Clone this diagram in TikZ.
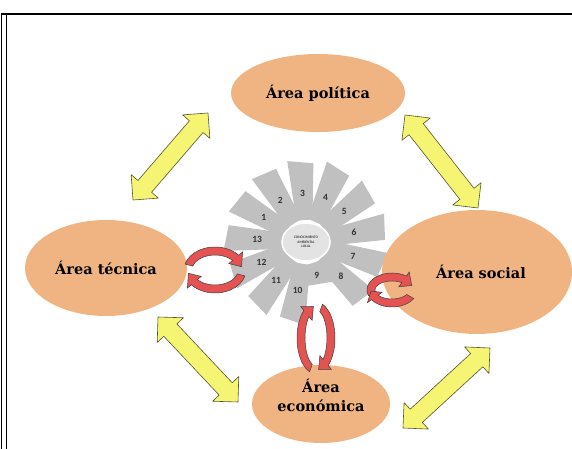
\documentclass[tikz,border=0pt]{standalone}
\usepackage{fontspec}
\usepackage{tikz}
\usetikzlibrary{shapes.geometric,calc}

\newfontfamily\areafont{DejaVu Serif}
\newfontfamily\numfont{Carlito}

\definecolor{areaorange}{RGB}{240,180,130}
\definecolor{arrowyellow}{RGB}{246,245,115}
\definecolor{arrowedge}{RGB}{85,85,45}
\definecolor{cyclered}{RGB}{228,82,82}
\definecolor{petalgray}{RGB}{192,192,192}

\tikzset{
  areatext/.style={align=center, font=\areafont\fontsize{14.5}{19}\selectfont\bfseries},
  area/.style={ellipse, fill=areaorange, inner sep=0pt, areatext},
  fatarrow/.style={fill=arrowyellow, draw=arrowedge, line width=0.6pt, line join=round},
  cyclearrow/.style={fill=cyclered, draw=black!75, line width=0.5pt},
  petal/.style={fill=petalgray},
  petalnum/.style={font=\numfont\fontsize{9.5}{10}\selectfont\bfseries, text=black!80},
}

% fat yellow arrow between two named points
\newcommand{\fatlink}[2]{%
  \filldraw[fatarrow] (#1) -- ($(#1)!25.46pt!45:(#2)$) -- ($(#1)!20.12pt!26.57:(#2)$)
    -- ($(#2)!20.12pt!-26.57:(#1)$) -- ($(#2)!25.46pt!-45:(#1)$) -- (#2)
    -- ($(#2)!25.46pt!45:(#1)$) -- ($(#2)!20.12pt!26.57:(#1)$)
    -- ($(#1)!20.12pt!-26.57:(#2)$) -- ($(#1)!25.46pt!-45:(#2)$) -- cycle;}

% curved red arrow: center, x radius, y radius, from, to, tip angle
\newcommand{\turnarrow}[6]{%
  \begin{scope}[shift={(#1)}]
    \pgfmathsetmacro\ro{#2+4}\pgfmathsetmacro\so{#3+4}
    \pgfmathsetmacro\ri{#2-4}\pgfmathsetmacro\si{#3-4}
    \pgfmathsetmacro\rh{#2+9}\pgfmathsetmacro\sh{#3+9}
    \pgfmathsetmacro\rl{#2-9}\pgfmathsetmacro\sl{#3-9}
    \filldraw[cyclearrow] (#4:\ro\space and \so) arc[start angle=#4, end angle=#5, x radius=\ro, y radius=\so]
      -- (#5:\rh\space and \sh) -- (#6:#2 and #3) -- (#5:\rl\space and \sl)
      -- (#5:\ri\space and \si) arc[start angle=#5, end angle=#4, x radius=\ri, y radius=\si] -- cycle;
  \end{scope}}

\begin{document}
\begin{tikzpicture}[x=1pt,y=1pt]
  \useasboundingbox (0,0) rectangle (572,449);

  % frame
  \draw[line width=1pt] (1.5,0) -- (1.5,436);
  \draw[line width=1pt] (6,0) -- (6,434);
  \draw[line width=2pt] (1,435) -- (572,435);

  % the wheel
  \begin{scope}[shift={(306,207)}]
    \foreach \n in {1,...,13} {
      \pgfmathsetmacro\ang{11-27.69*(\n-6)}
      \pgfmathsetmacro\rout{\n==9 ? 44 : 80}
      \begin{scope}[rotate=\ang]
        \fill[petal] (22,-8) -- (\rout-2,-13) -- (\rout+2,13) -- (22,8) -- cycle;
      \end{scope}
      \node[petalnum] (p\n) at (\ang:{\n==9 ? 35 : 49}) {\n};
    }
  \end{scope}
  \node[ellipse, fill=gray!22, draw=white, line width=1.5pt, minimum width=48, minimum height=38,
    inner sep=0pt, align=center, font=\numfont\fontsize{3.6}{4.4}\selectfont] (cal) at (306,207)
    {CONOCIMIENTO\\AMBIENTAL\\LOCAL};

  % the four areas
  \node[area, minimum width=174, minimum height=78] (pol) at (318,356) {Área política};
  \node[area, minimum width=162, minimum height=96] (tec) at (106,181) {Área técnica};
  \node[area, minimum width=190, minimum height=124] (soc) at (477,177) {\hspace*{8pt}Área social};
  \node[area, minimum width=138, minimum height=78,
    label={[areatext, yshift=9pt]center:Área\\económica}] (eco) at (321,45) {};

  % yellow arrows
  \coordinate (tp1) at (133,249); \coordinate (tp2) at (208,336);
  \coordinate (ps1) at (405,334); \coordinate (ps2) at (478,241);
  \coordinate (te1) at (158,132); \coordinate (te2) at (238,47);
  \coordinate (es1) at (403,21);  \coordinate (es2) at (490,101);
  \fatlink{tp1}{tp2}
  \fatlink{ps1}{ps2}
  \fatlink{te1}{te2}
  \fatlink{es1}{es2}

  % red turning arrows
  \coordinate (cyctec) at (215,179);
  \coordinate (cycsoc) at (392,159);
  \coordinate (cyceco) at (316,111);
  \turnarrow{cyctec}{27}{19}{165}{40}{10}
  \turnarrow{cyctec}{27}{19}{-15}{-140}{-170}
  \turnarrow{cycsoc}{21}{13}{200}{55}{20}
  \turnarrow{cycsoc}{21}{13}{-30}{-145}{-175}
  \turnarrow{cyceco}{15}{32}{250}{130}{100}
  \turnarrow{cyceco}{15}{32}{70}{-50}{-80}
\end{tikzpicture}
\end{document}
